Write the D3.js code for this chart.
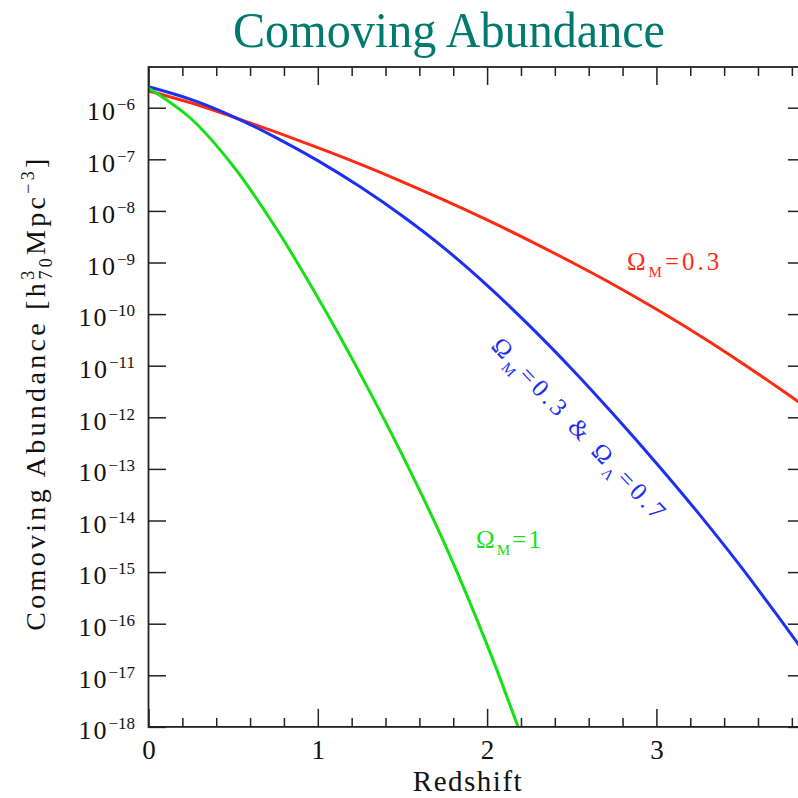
<!DOCTYPE html>
<html>
<head>
<meta charset="utf-8">
<script src="https://cdn.jsdelivr.net/npm/d3@7"></script>
<style>
  html, body { margin: 0; padding: 0; background: #fff; overflow: hidden; }
  svg text { font-family: "Liberation Serif", "Times New Roman", serif; }
</style>
</head>
<body>
<svg id="chart" width="798" height="798"></svg>
<script>
// Redshift sample points shared by the two Omega_M = 0.3 models
const redshift = [0, 0.25, 0.5, 0.75, 1.0, 1.25, 1.5, 1.75, 2.0, 2.25, 2.5, 2.75, 3.0, 3.25, 3.5, 3.75, 3.9];

// Comoving abundance [h70^3 Mpc^-3], open universe (Omega_M = 0.3)
const abundanceOpen = [2.11e-6, 1.245e-6, 6.61e-7, 3.39e-7, 1.68e-7, 8.04e-8, 3.67e-8, 1.60e-8,
                       6.68e-9, 2.66e-9, 1.01e-9, 3.67e-10, 1.24e-10, 3.94e-11, 1.16e-11, 3.20e-12, 1.44e-12];

// Flat Lambda universe (Omega_M = 0.3, Omega_Lambda = 0.7)
const abundanceLambda = [2.55e-6, 1.45e-6, 6.75e-7, 2.67e-7, 9.44e-8, 2.93e-8, 7.96e-9, 1.86e-9,
                         3.61e-10, 5.98e-11, 8.65e-12, 1.11e-12, 1.29e-13, 1.36e-14, 1.26e-15, 1.00e-16, 2.11e-17];

// Einstein-de Sitter universe (Omega_M = 1)
const redshiftFlat = [0, 0.25, 0.5, 0.75, 1.0, 1.25, 1.5, 1.75, 2.0, 2.25];
const abundanceFlat = [2.41e-6, 6.18e-7, 7.41e-8, 4.81e-9, 2.10e-10, 7.03e-12, 1.83e-13, 3.48e-15, 3.88e-17, 2.49e-19];

// Axis ticks
const zMajorTicks = [0, 1, 2, 3];
const zMinorTicks = [0.2, 0.4, 0.6, 0.8, 1.2, 1.4, 1.6, 1.8, 2.2, 2.4, 2.6, 2.8, 3.2, 3.4, 3.6, 3.8];
const decadeTicks = [1e-6, 1e-7, 1e-8, 1e-9, 1e-10, 1e-11, 1e-12, 1e-13, 1e-14, 1e-15, 1e-16, 1e-17, 1e-18];
const decadeExponents = ["−6", "−7", "−8", "−9", "−10", "−11", "−12", "−13", "−14", "−15", "−16", "−17", "−18"];

const svg = d3.select("#chart");
const frameColor = "#222";

const x = d3.scaleLinear().domain([0, 3.88]).range([148.5, 805.4]);
const y = d3.scaleLog().domain([1e-18, 6.15e-6]).range([726.9, 67]);

const [x0, x1] = x.range();
const [yb, yt] = y.range();

// Title
svg.append("text")
  .attr("x", 449).attr("y", 47)
  .attr("text-anchor", "middle")
  .attr("font-size", 50)
  .attr("fill", "#00796e")
  .attr("textLength", 432)
  .attr("lengthAdjust", "spacingAndGlyphs")
  .text("Comoving Abundance");

// Curves, clipped to the plot box
svg.append("clipPath").attr("id", "plotClip")
  .append("rect").attr("x", x0).attr("y", yt).attr("width", x1 - x0).attr("height", yb - yt);

const plot = svg.append("g").attr("clip-path", "url(#plotClip)");
const line = d3.line().x(d => x(d[0])).y(d => y(d[1])).curve(d3.curveCatmullRom.alpha(0.5));

const series = [
  { z: redshift, v: abundanceOpen, color: "#ff2a12" },
  { z: redshift, v: abundanceLambda, color: "#1c30f2" },
  { z: redshiftFlat, v: abundanceFlat, color: "#16e016" }
];
series.forEach(s => {
  plot.append("path")
    .datum(s.z.map((z, i) => [z, s.v[i]]))
    .attr("fill", "none")
    .attr("stroke", s.color)
    .attr("stroke-width", 3)
    .attr("d", line);
});

// Axes with inward ticks
function styleAxis(g) {
  g.select(".domain").remove();
  g.selectAll(".tick line").attr("stroke", frameColor).attr("stroke-width", 1.5);
}

svg.append("g").attr("transform", `translate(0,${yb})`)
  .call(d3.axisBottom(x).tickValues(zMinorTicks).tickSize(-9).tickFormat(""))
  .call(styleAxis);
const xBottom = svg.append("g").attr("transform", `translate(0,${yb})`)
  .call(d3.axisBottom(x).tickValues(zMajorTicks).tickSize(-18).tickPadding(13).tickFormat(d3.format("d")))
  .call(styleAxis);
xBottom.selectAll(".tick text")
  .attr("font-size", 27).attr("fill", "#111")
  .attr("font-family", "Liberation Serif");

svg.append("g").attr("transform", `translate(0,${yt})`)
  .call(d3.axisTop(x).tickValues(zMinorTicks).tickSize(-9).tickFormat(""))
  .call(styleAxis);
svg.append("g").attr("transform", `translate(0,${yt})`)
  .call(d3.axisTop(x).tickValues(zMajorTicks).tickSize(-18).tickFormat(""))
  .call(styleAxis);

svg.append("g").attr("transform", `translate(${x0},0)`)
  .call(d3.axisLeft(y).tickValues(decadeTicks).tickSize(-17.5).tickFormat(""))
  .call(styleAxis);
svg.append("g").attr("transform", `translate(${x1},0)`)
  .call(d3.axisRight(y).tickValues(decadeTicks).tickSize(-17.5).tickFormat(""))
  .call(styleAxis);

// Decade labels 10^n
const yLabels = svg.append("g").attr("fill", "#111");
decadeTicks.forEach((v, i) => {
  const t = yLabels.append("text")
    .attr("x", 135).attr("y", y(v) + 12.3)
    .attr("text-anchor", "end");
  t.append("tspan").attr("font-size", 26).attr("letter-spacing", 2).text("10");
  t.append("tspan").attr("font-size", 17).attr("dy", -10).text(decadeExponents[i]);
});

// Frame
svg.append("rect")
  .attr("x", x0).attr("y", yt).attr("width", x1 - x0).attr("height", yb - yt)
  .attr("fill", "none").attr("stroke", frameColor).attr("stroke-width", 1.8);

// Axis titles
svg.append("text")
  .attr("x", 468).attr("y", 791)
  .attr("text-anchor", "middle")
  .attr("font-size", 29).attr("letter-spacing", 1.5).attr("fill", "#111")
  .text("Redshift");

const yTitle = svg.append("text")
  .attr("transform", "translate(45,393) rotate(-90)")
  .attr("text-anchor", "middle")
  .attr("font-size", 28).attr("letter-spacing", 3.3).attr("fill", "#111");
yTitle.append("tspan").text("Comoving Abundance [h");
yTitle.append("tspan").attr("font-size", 18).attr("dy", -11).text("3");
yTitle.append("tspan").attr("font-size", 18).attr("dx", -12).attr("dy", 18).text("70");
yTitle.append("tspan").attr("dy", -7).text("Mpc");
yTitle.append("tspan").attr("font-size", 18).attr("dy", -11).text("−3");
yTitle.append("tspan").attr("dy", 11).text("]");

// Curve annotations
function omegaLabel(parent, parts, spacing) {
  const t = parent.append("text").attr("font-size", 25).attr("letter-spacing", spacing);
  parts.forEach(p => {
    const s = t.append("tspan").text(p.text);
    if (p.sub) s.attr("font-size", 15).attr("dy", 7);
    if (p.back) s.attr("dy", -7);
  });
  return t;
}

omegaLabel(svg.append("g").attr("transform", `translate(${x(2.826)},${y(7.16e-10)})`).attr("fill", "#ff2a12"),
  [{ text: "Ω" }, { text: "M", sub: true }, { text: "=0.3", back: true }], 3);

omegaLabel(svg.append("g").attr("transform", `translate(${x(1.934)},${y(2.93e-15)})`).attr("fill", "#16e016"),
  [{ text: "Ω" }, { text: "M", sub: true }, { text: "=1", back: true }], 2.2);

omegaLabel(svg.append("g").attr("transform", `translate(${x(2.017)},${y(2.30e-11)}) rotate(46.5)`).attr("fill", "#1c30f2"),
  [{ text: "Ω" }, { text: "M", sub: true }, { text: "=0.3 & Ω", back: true }, { text: "Λ", sub: true }, { text: "=0.7", back: true }], 4);
</script>
</body>
</html>
